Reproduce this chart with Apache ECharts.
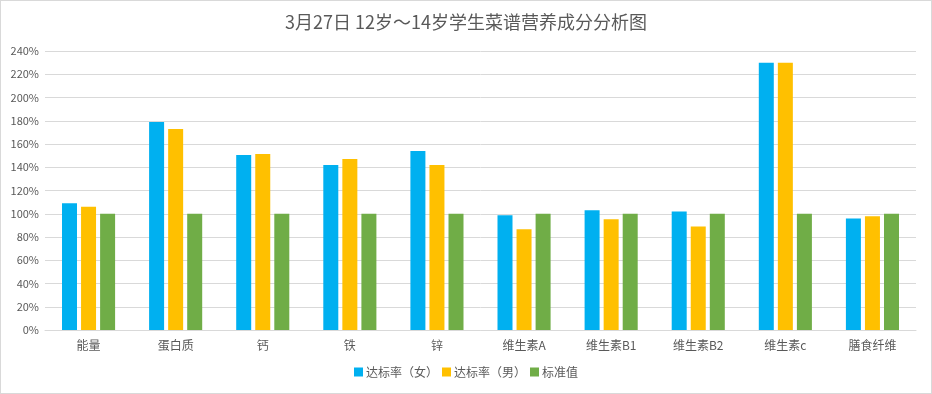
<!DOCTYPE html>
<html><head><meta charset="utf-8">
<script src="https://cdn.jsdelivr.net/npm/echarts@6/dist/echarts.min.js"></script>
<style>html,body{margin:0;padding:0;background:#fff}#c{width:930px;height:392px;border:1px solid #d9d9d9}</style>
</head><body><div id="c"></div>
<script>
const titleText = '3月27日 12岁～14岁学生菜谱营养成分分析图';
const categories = ['能量','蛋白质','钙','铁','锌','维生素A','维生素B1','维生素B2','维生素c','膳食纤维'];
const seriesNames = ['达标率（女）','达标率（男）','标准值'];
const female = [109, 179, 150.5, 142, 154, 98.7, 103, 102, 230, 96];
const male = [106, 173, 151.5, 147, 142, 86.6, 95.2, 89, 230, 97.8];
const standard = [100, 100, 100, 100, 100, 100, 100, 100, 100, 100];
const colors = ['#00b0f0','#ffc000','#70ad47'];
const font = '"Microsoft YaHei","Noto Sans CJK SC",sans-serif';
const chart = echarts.init(document.getElementById('c'));
chart.setOption({
  animation:false,
  textStyle:{fontFamily:font},
  title:{text:titleText,left:'center',top:7,textStyle:{fontSize:18,fontWeight:'normal',color:'#595959',fontFamily:font}},
  legend:{bottom:10,itemWidth:9,itemHeight:9,itemGap:4,icon:'rect',textStyle:{fontSize:12,color:'#595959',padding:[0,0,0,-2]},data:seriesNames},
  grid:{left:44,right:15,top:50,bottom:63,containLabel:false},
  xAxis:{type:'category',data:categories,axisTick:{show:false},axisLine:{lineStyle:{color:'#d9d9d9'}},axisLabel:{color:'#595959',fontSize:12,margin:9}},
  yAxis:{type:'value',min:0,max:240,interval:20,axisLabel:{formatter:'{value}%',color:'#595959',fontSize:11,margin:6},splitLine:{lineStyle:{color:'#d9d9d9'}},axisLine:{show:false}},
  series:[
    {name:seriesNames[0],type:'bar',data:female,barWidth:15,barGap:'27%',itemStyle:{color:colors[0]}},
    {name:seriesNames[1],type:'bar',data:male,barWidth:15,barGap:'27%',itemStyle:{color:colors[1]}},
    {name:seriesNames[2],type:'bar',data:standard,barWidth:15,barGap:'27%',itemStyle:{color:colors[2]}}
  ]
});
</script></body></html>
